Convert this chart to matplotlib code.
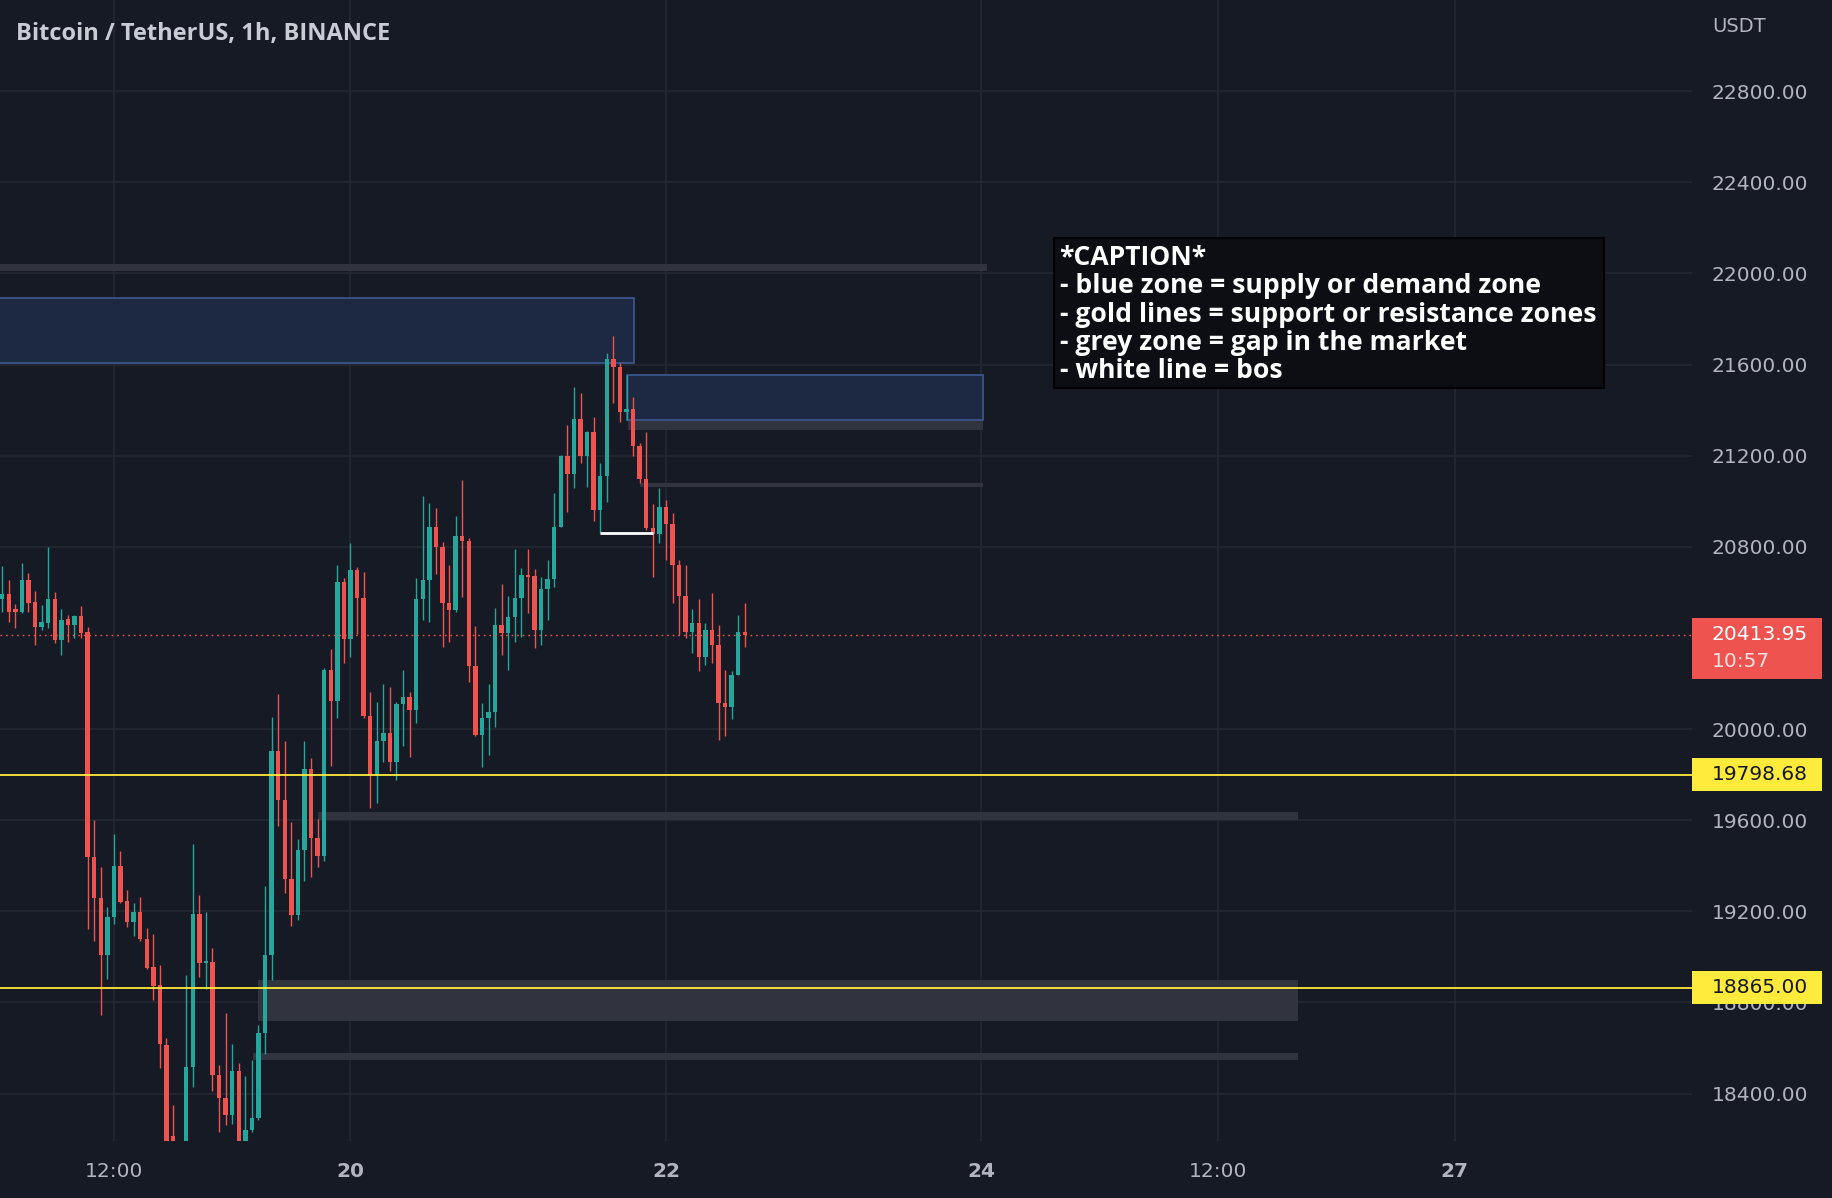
import numpy as np
import matplotlib
matplotlib.use("Agg")
import matplotlib.pyplot as plt
from matplotlib.patches import Rectangle
import matplotlib.transforms as mtransforms

# ---------------- data ----------------
# hours relative to day "20" 00:00
hours = list(range(-53, 61))
opens = [20569, 20593, 20527, 20515, 20654, 20559, 20449, 20464, 20571, 20391,
         20482, 20457, 20496, 20425, 19440, 19259, 19010, 19176, 19400, 19244,
         19153, 19199, 19078, 18957, 18877, 18615, 18215, 18120, 18070, 18518,
         19188, 18972, 18978, 18481, 18382, 18306, 18500, 18150, 18242, 18291,
         18664, 19007, 19905, 19690, 19341, 19183, 19470, 19825, 19520, 19444,
         20259, 20124, 20645, 20396, 20699, 20575, 20059, 19798, 19948, 19981,
         19857, 20110, 20139, 20084, 20571, 20654, 20888, 20800, 20555, 20523,
         20847, 20827, 20277, 19974, 20047, 20073, 20457, 20420, 20490, 20577,
         20676, 20672, 20435, 20613, 20657, 20888, 21199, 21120, 21359, 21199,
         21305, 20962, 21111, 21623, 21591, 21393, 21403, 21242, 21096, 20881,
         20856, 20976, 20900, 20720, 20584, 20428, 20467, 20318, 20435, 20369,
         20113, 20098, 20237, 20427]
highs = [20716, 20654, 20549, 20727, 20684, 20606, 20545, 20798, 20600, 20527,
         20501, 20501, 20540, 20448, 19599, 19395, 19221, 19539, 19466, 19292,
         19236, 19264, 19128, 19100, 18964, 18644, 18350, 18170, 18919, 19496,
         19271, 19199, 19040, 18526, 18752, 18617, 18536, 18478, 18546, 18703,
         19310, 20055, 20153, 19947, 19591, 19516, 19948, 19872, 19604, 20267,
         20351, 20721, 20662, 20816, 20712, 20690, 20164, 20120, 20196, 20186,
         20120, 20259, 20164, 20662, 21023, 20994, 20969, 20822, 20720, 20935,
         21093, 20837, 20452, 20113, 20200, 20530, 20637, 20586, 20789, 20705,
         20789, 20701, 20669, 20742, 21035, 21203, 21335, 21500, 21474, 21308,
         21368, 21166, 21652, 21725, 21605, 21554, 21459, 21254, 21306, 20988,
         21057, 21006, 20947, 20742, 20720, 20526, 20570, 20467, 20596, 20457,
         20259, 20256, 20501, 20555]
lows = [20515, 20471, 20442, 20510, 20515, 20369, 20435, 20442, 20376, 20325,
        20384, 20398, 20398, 19123, 19070, 18745, 18904, 19146, 19236, 19131,
        19093, 19070, 18949, 18813, 18511, 18050, 18060, 17980, 18040, 18428,
        18911, 18858, 18413, 18231, 18261, 18265, 18080, 18100, 18230, 18285,
        18576, 18900, 19575, 19281, 19134, 19163, 19335, 19352, 19394, 19419,
        19839, 20049, 20292, 20318, 20418, 20050, 19652, 19674, 19857, 19817,
        19777, 19926, 19879, 20025, 20479, 20471, 20681, 20361, 20384, 20515,
        20581, 20208, 19970, 19835, 19886, 20008, 20325, 20259, 20384, 20406,
        20508, 20355, 20369, 20479, 20625, 20885, 20954, 21057, 21169, 21064,
        20915, 20859, 20998, 21433, 21349, 21357, 21199, 21079, 20874, 20669,
        20815, 20742, 20552, 20413, 20398, 20335, 20256, 20281, 20289, 19952,
        19970, 20043, 20237, 20362]
closes = [20593, 20515, 20515, 20654, 20555, 20449, 20471, 20571, 20391, 20479,
          20457, 20496, 20420, 19440, 19259, 19010, 19176, 19400, 19239, 19153,
          19199, 19078, 18952, 18874, 18617, 18120, 18130, 18060, 18518, 19188,
          18972, 18980, 18481, 18382, 18306, 18500, 18150, 18242, 18291, 18664,
          19007, 19905, 19690, 19341, 19183, 19470, 19825, 19520, 19444, 20259,
          20124, 20645, 20396, 20699, 20575, 20059, 19798, 19948, 19981, 19857,
          20110, 20139, 20084, 20571, 20654, 20888, 20800, 20555, 20523, 20847,
          20827, 20277, 19974, 20047, 20073, 20457, 20420, 20490, 20577, 20676,
          20668, 20435, 20613, 20657, 20888, 21199, 21120, 21359, 21199, 21305,
          20962, 21111, 21623, 21591, 21393, 21403, 21242, 21096, 20881, 20856,
          20976, 20900, 20720, 20584, 20428, 20467, 20318, 20435, 20369, 20113,
          20098, 20237, 20427, 20413.95]

ytick_values = [18400, 18800, 19200, 19600, 20000, 20800, 21200,
                21600, 22000, 22400, 22800]
xtick_hours = [-36, 0, 48, 96, 132, 168]
xtick_labels = ["12:00", "20", "22", "24", "12:00", "27"]
xtick_bold = [False, True, True, True, False, True]

support_levels = [19798.68, 18865.00]
last_price = 20413.95
countdown = "10:57"

# drawings: (hour_start, hour_end, price_low, price_high)
supply_zones = [(-60, 43.2, 21605, 21892), (42.0, 96.2, 21356, 21554)]
gap_zones = [(-60, 96.9, 22010, 22040), (42.2, 96.2, 21312, 21353),
             (44.0, 96.2, 21061, 21078), (-4.9, 144.2, 19599, 19638),
             (-14.0, 144.2, 18717, 18897), (-14.8, 144.2, 18549, 18579)]
bos_line = (38.0, 46.0, 20859)
caption_box = (107.0, 190.7, 21497, 22155)
caption_lines = ["*CAPTION*",
                 "- blue zone = supply or demand zone",
                 "- gold lines = support or resistance zones",
                 "- grey zone = gap in the market",
                 "- white line = bos"]
title = "Bitcoin / TetherUS, 1h, BINANCE"

# ---------------- style ----------------
BG = "#161a25"
GRID = "#242833"
UP = "#26a69a"
DOWN = "#ef5350"
TXT = "#b2b5be"
YEL = "#ffeb3b"

W, H = 1832, 1198
fig = plt.figure(figsize=(W / 100, H / 100), dpi=100, facecolor=BG)
ax = fig.add_axes([0, 57 / H, 1692 / W, 1141 / H])
ax.set_facecolor(BG)
ax.set_xlim(-53.33, 204.12)
ax.set_ylim(18192, 23200)
for s in ax.spines.values():
    s.set_visible(False)

ax.set_yticks(ytick_values)
ax.set_yticklabels([f"{v:.2f}" for v in ytick_values])
ax.yaxis.tick_right()
ax.tick_params(axis="y", length=0, pad=14, labelsize=14.5, labelcolor=TXT)
ax.set_xticks(xtick_hours)
ax.set_xticklabels(xtick_labels)
ax.tick_params(axis="x", length=0, pad=15, labelsize=14.5, labelcolor=TXT)
for lab, b in zip(ax.get_xticklabels(), xtick_bold):
    if b:
        lab.set_fontweight("bold")
ax.grid(True, color=GRID, lw=1.2, zorder=0)
ax.set_axisbelow(True)

# zones
for x0, x1, p0, p1 in gap_zones:
    ax.add_patch(Rectangle((x0, p0), x1 - x0, p1 - p0, facecolor="#31343e",
                           edgecolor="none", zorder=1))
for x0, x1, p0, p1 in supply_zones:
    ax.add_patch(Rectangle((x0, p0), x1 - x0, p1 - p0, facecolor="#1d2942",
                           edgecolor="#3d5a94", lw=1.2, zorder=1))

# candles
o = np.array(opens, float); h_ = np.array(highs, float)
l_ = np.array(lows, float); c = np.array(closes, float)
x = np.array(hours, float)
cols = np.where(c >= o, UP, DOWN)
ax.vlines(x, l_, h_, colors=cols, lw=1.0, zorder=3)
bottoms = np.minimum(o, c)
heights = np.maximum(np.abs(c - o), 5)
ax.bar(x, heights, bottom=bottoms, width=0.68, color=cols, lw=0, zorder=4)

# support lines
for lv in support_levels:
    ax.axhline(lv, color=YEL, lw=1.3, zorder=5)
# last price dotted line
ax.axhline(last_price, color=DOWN, lw=1.0, ls=(0, (1.2, 2.8)), zorder=5)
# bos
ax.hlines(bos_line[2], bos_line[0], bos_line[1], color="white", lw=2.0, zorder=6)

# caption
bx0, bx1, by0, by1 = caption_box
ax.add_patch(Rectangle((bx0, by0), bx1 - bx0, by1 - by0, facecolor="#0c0e13",
                       edgecolor="#000000", lw=1.5, zorder=7))
ppx = 4.389  # price per pixel
for i, line in enumerate(caption_lines):
    ax.text(bx0 + 0.9, by1 - (20 + 28.3 * i) * ppx, line, color="white",
            fontsize=19.1, fontweight="bold",
            family=["Open Sans", "DejaVu Sans"],
            va="center", ha="left", zorder=8)

# right axis labels
tr = mtransforms.blended_transform_factory(ax.transAxes, ax.transData)
xr0, xr1 = 1.0, 1822 / 1692
for lv in support_levels:
    ax.add_patch(Rectangle((xr0, lv - 16.5 * ppx), xr1 - xr0, 33 * ppx,
                           transform=tr, facecolor=YEL, edgecolor="none",
                           clip_on=False, zorder=10))
    ax.text(1712 / 1692, lv, f"{lv:.2f}", transform=tr, color="#131722",
            fontsize=14.5, va="center", ha="left", clip_on=False, zorder=11)
ax.add_patch(Rectangle((xr0, last_price - 44 * ppx), xr1 - xr0, 61 * ppx,
                       transform=tr, facecolor=DOWN, edgecolor="none",
                       clip_on=False, zorder=10))
ax.text(1712 / 1692, last_price, f"{last_price:.2f}", transform=tr,
        color="white", fontsize=14.5, va="center", ha="left", clip_on=False,
        zorder=11)
ax.text(1712 / 1692, last_price - 27 * ppx, countdown, transform=tr,
        color="#fde0df", fontsize=14.5, va="center", ha="left", clip_on=False,
        zorder=11)

fig.text(1712 / W, 1 - 26 / H, "USDT", color=TXT, fontsize=14, va="center",
         ha="left")
fig.text(16 / W, 1 - 34 / H, title, color="#c9ccd4", fontsize=17,
         fontweight="bold", family=["Open Sans", "DejaVu Sans"], va="center",
         ha="left")

fig.savefig("out.png", dpi=100, facecolor=BG)
